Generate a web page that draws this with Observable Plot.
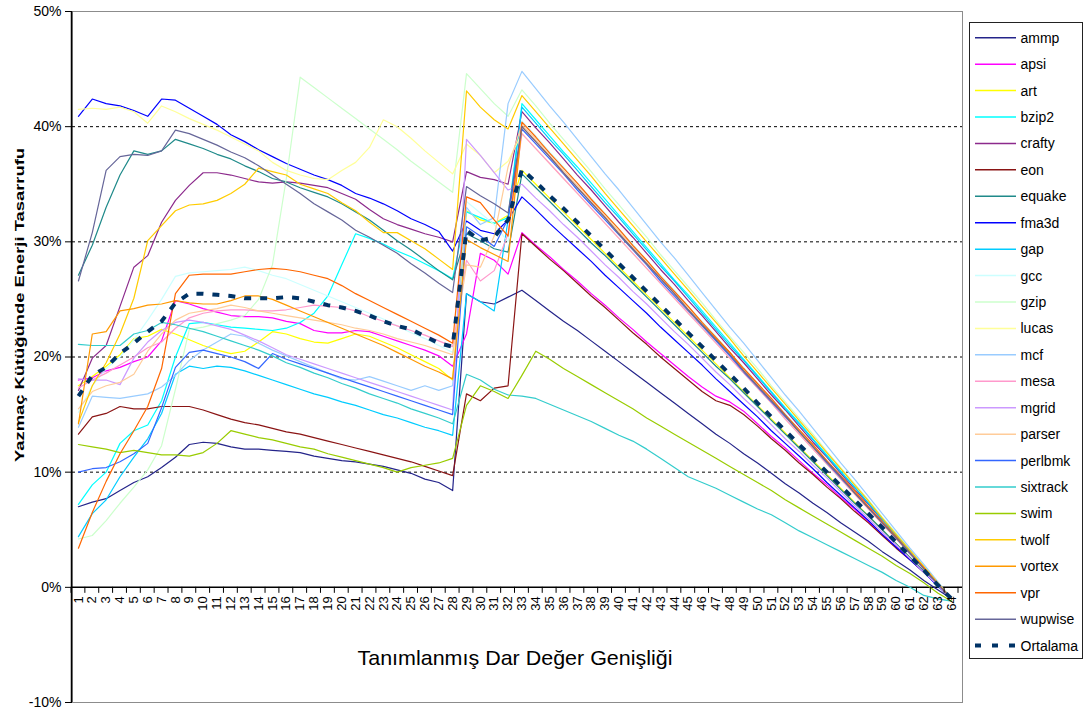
<!DOCTYPE html>
<html><head><meta charset="utf-8">
<script src="https://cdn.jsdelivr.net/npm/d3@7"></script>
<script src="https://cdn.jsdelivr.net/npm/@observablehq/plot@0.6"></script>
<style>body{margin:0;background:#fff;font-family:"Liberation Sans",Arial,sans-serif}</style>
</head><body><div id="chart"></div>
<script>
const categories = [1,2,3,4,5,6,7,8,9,10,11,12,13,14,15,16,17,18,19,20,21,22,23,24,25,26,27,28,29,30,31,32,33,34,35,36,37,38,39,40,41,42,43,44,45,46,47,48,49,50,51,52,53,54,55,56,57,58,59,60,61,62,63,64];
const seriesNames = ["ammp","apsi","art","bzip2","crafty","eon","equake","fma3d","gap","gcc","gzip","lucas","mcf","mesa","mgrid","parser","perlbmk","sixtrack","swim","twolf","vortex","vpr","wupwise"];
const seriesColors = ["#24248a","#ff00ff","#ffff00","#00ffff","#8c2a8c","#8a1414","#1f8a8a","#0000ff","#00ccff","#ccffff","#ccffcc","#ffff99","#99ccff","#ff99cc","#cc99ff","#ffcc99","#3366ff","#33cccc","#99cc00","#ffcc00","#ff9900","#ff6600","#666699"];
const avgName = "Ortalama";
const avgColor = "#003366";
const yTicks = [-10,0,10,20,30,40,50];
const gridValues = [10,20,30,40];

const ammp = [7.0,7.4,7.7,8.4,9.1,9.6,10.4,11.3,12.4,12.6,12.5,12.2,12.0,12.0,11.9, 11.8,11.7,11.4,11.2,11.0,10.9,10.7,10.5,10.2,9.9,9.4,9.1,8.4, 25.5,24.8,24.6,25.2,25.8, 24.9,24.0,23.1,22.3,21.4,20.5,19.6,18.7,17.8,16.9,16.0,15.1,14.2,13.3,12.5,11.6,10.8,9.9,9.0,8.2,7.3,6.5,5.6,4.8,4.0,3.1,2.3,1.5,0.6,-0.2,-1.0];
const apsi = [18.0,18.2,18.8,19.1,19.6,20.0,21.4,24.9,24.6,24.2,23.9,23.6,23.5,23.5,23.4, 23.1,22.9,22.3,22.1,22.1,22.3,22.2,21.8,21.4,21.0,20.6,20.1,19.2, 22.0,29.0,28.4,27.2,30.8, 29.7,28.7,27.6,26.6,25.5,24.5,23.4,22.4,21.3,20.3,19.3,18.3,17.4,16.6,16.1,15.3,14.2,13.1,12.1,11.0,9.9,8.9,7.8,6.8,5.7,4.6,3.5,2.5,1.4,0.3,-1.0];
const art = [17.5,18.3,19.2,20.2,21.6,21.8,22.4,22.0,21.5,21.0,20.6,20.3,20.5,21.3,22.2, 22.0,21.6,21.3,21.2,21.6,22.0,21.8,21.3,20.8,20.2,19.6,19.0,18.0, 32.7,31.9,31.6,32.3,36.2, 35.0,33.8,32.6,31.4,30.2,29.0,27.8,26.6,25.4,24.2,23.0,21.8,20.6,19.4,18.2,17.0,15.8,14.6,13.4,12.2,11.0,9.8,8.6,7.4,6.2,5.0,3.8,2.6,1.4,0.2,-1.0];
const bzip2 = [7.2,8.9,10.0,12.5,13.6,14.1,16.2,20.0,22.9,23.0,22.8,22.6,22.5,22.4,22.3, 22.5,23.0,23.8,25.3,28.0,30.7,30.3,29.8,29.2,28.7,28.1,27.5,26.8, 32.6,32.1,31.6,32.1,42.0, 40.6,39.2,37.8,36.5,35.1,33.7,32.3,30.9,29.5,28.1,26.7,25.4,24.0,22.6,21.2,19.8,18.4,17.0,15.6,14.3,12.9,11.5,10.1,8.7,7.3,5.9,4.5,3.2,1.8,0.4,-1.0];
const crafty = [17.1,19.9,21.0,24.4,27.8,28.8,31.7,33.6,34.9,36.0,36.0,35.8,35.5,35.2,35.1, 35.2,35.1,34.9,34.7,34.2,33.7,32.8,32.0,31.5,31.1,30.7,30.4,30.0, 36.1,35.6,35.4,35.0,41.3, 39.9,38.6,37.2,35.8,34.5,33.1,31.7,30.4,29.0,27.6,26.3,24.9,23.6,22.2,20.8,19.5,18.1,16.7,15.4,14.0,12.6,11.3,9.9,8.5,7.2,5.8,4.4,3.1,1.7,0.3,-1.0];
const eon = [13.3,14.8,15.1,15.7,15.5,15.5,15.7,15.7,15.7,15.4,15.0,14.6,14.3,14.1,13.8, 13.5,13.3,13.0,12.7,12.4,12.1,11.8,11.5,11.2,10.9,10.5,10.1,9.7, 16.8,16.2,17.3,17.5,30.7, 29.6,28.5,27.5,26.4,25.3,24.3,23.2,22.1,21.1,20.0,19.0,18.0,17.0,16.2,15.8,15.0,14.0,12.9,11.9,10.8,9.8,8.7,7.7,6.6,5.6,4.5,3.4,2.4,1.3,0.2,-1.0];
const equake = [27.1,29.7,33.0,35.8,37.9,37.6,37.9,38.9,38.5,38.1,37.6,37.2,36.6,36.1,35.5, 35.2,34.7,34.3,33.9,33.3,32.6,31.9,31.0,30.1,29.3,28.4,27.5,26.7, 30.7,30.1,29.4,29.1,35.9, 34.7,33.5,32.3,31.1,29.9,28.8,27.6,26.4,25.2,24.0,22.8,21.6,20.4,19.2,18.1,16.9,15.7,14.5,13.3,12.1,10.9,9.7,8.5,7.3,6.2,5.0,3.8,2.6,1.4,0.2,-1.0];
const fma3d = [40.9,42.4,42.0,41.8,41.4,40.9,42.4,42.3,41.6,40.9,40.2,39.3,38.7,38.0,37.4, 36.8,36.3,35.8,35.4,34.9,34.2,33.8,33.3,32.7,32.0,31.5,30.9,29.2, 31.8,31.0,30.7,31.9,33.9, 32.8,31.6,30.5,29.4,28.3,27.1,26.0,24.9,23.8,22.6,21.5,20.4,19.3,18.1,17.0,15.9,14.8,13.6,12.5,11.4,10.3,9.1,8.0,6.9,5.8,4.6,3.5,2.4,1.3,0.1,-1.0];
const gap = [4.4,6.4,7.6,9.6,11.3,12.9,15.1,18.5,19.2,19.0,19.2,19.1,18.8,18.4,18.0, 17.6,17.2,16.8,16.5,16.1,15.8,15.4,15.0,14.7,14.3,13.9,13.6,13.2, 25.5,24.8,24.0,31.9,41.7, 40.3,38.9,37.6,36.2,34.8,33.4,32.1,30.7,29.3,27.9,26.6,25.2,23.8,22.4,21.0,19.7,18.3,16.9,15.5,14.2,12.8,11.4,10.0,8.7,7.3,5.9,4.5,3.1,1.8,0.4,-1.0];
const gcc = [15.2,17.5,19.0,20.0,21.5,23.2,25.0,27.0,27.3,27.4,27.5,27.6,27.8,27.5,27.1, 26.8,26.3,25.8,25.3,24.8,24.3,23.8,23.3,22.7,22.1,21.6,21.0,20.4, 33.5,32.5,31.5,30.0,40.5, 39.2,37.8,36.5,35.1,33.8,32.5,31.1,29.8,28.4,27.1,25.8,24.4,23.1,21.8,20.4,19.1,17.7,16.4,15.1,13.7,12.4,11.0,9.7,8.4,7.0,5.7,4.3,3.0,1.7,0.3,-1.0];
const gzip = [4.2,4.5,5.8,7.3,8.7,10.2,12.3,17.2,22.4,22.6,22.9,23.2,23.6,25.0,28.0, 35.5,44.3,43.4,42.5,41.6,40.7,39.8,38.9,38.0,37.0,36.1,35.2,34.3, 44.6,43.3,42.0,40.9,43.2, 41.8,40.3,38.9,37.5,36.1,34.6,33.2,31.8,30.4,28.9,27.5,26.1,24.7,23.2,21.8,20.4,19.0,17.5,16.1,14.7,13.3,11.8,10.4,9.0,7.6,6.1,4.7,3.3,1.9,0.4,-1.0];
const lucas = [41.5,41.6,41.5,41.7,41.3,40.3,41.8,41.3,40.7,40.2,39.7,39.1,38.5,37.9,36.9, 36.2,35.8,35.5,35.4,36.2,36.9,38.2,40.6,40.0,39.0,37.9,36.9,35.9, 38.5,37.5,36.0,37.0,39.4, 38.1,36.8,35.5,34.2,32.9,31.6,30.3,29.0,27.7,26.4,25.1,23.8,22.5,21.2,19.9,18.6,17.3,16.0,14.6,13.3,12.0,10.7,9.4,8.1,6.8,5.5,4.2,2.9,1.6,0.3,-1.0];
const mcf = [13.9,16.6,16.5,16.4,16.6,16.8,17.4,18.4,19.7,20.6,21.3,22.0,21.8,21.2,20.6, 20.1,19.6,19.1,18.6,18.1,18.0,18.3,17.9,17.5,17.1,17.5,17.1,17.5, 33.0,31.5,32.1,42.0,44.8, 43.3,41.8,40.4,38.9,37.4,35.9,34.5,33.0,31.5,30.0,28.6,27.1,25.6,24.1,22.6,21.2,19.7,18.2,16.7,15.3,13.8,12.3,10.8,9.4,7.9,6.4,4.9,3.4,2.0,0.5,-1.0];
const mesa = [17.3,18.0,18.6,19.3,20.0,20.8,21.3,22.5,23.4,23.8,24.0,24.1,24.1,24.0,24.0, 24.1,24.3,24.5,24.4,24.3,24.0,23.5,23.1,22.7,22.3,21.9,21.4,20.9, 28.4,26.6,27.5,30.7,39.4, 38.1,36.8,35.5,34.2,32.9,31.6,30.3,29.0,27.7,26.4,25.1,23.8,22.5,21.2,19.9,18.6,17.3,16.0,14.6,13.3,12.0,10.7,9.4,8.1,6.8,5.5,4.2,2.9,1.6,0.3,-1.0];
const mgrid = [18.1,18.0,18.0,17.6,19.9,21.3,22.3,23.0,23.2,23.0,22.7,22.4,21.9,21.4,20.8, 20.2,19.8,19.4,19.0,18.6,18.2,17.8,17.4,17.0,16.6,16.2,15.8,15.4, 38.9,37.5,36.0,34.5,35.0, 33.8,32.7,31.5,30.4,29.2,28.0,26.9,25.7,24.6,23.4,22.2,21.1,19.9,18.7,17.6,16.4,15.3,14.1,12.9,11.8,10.6,9.5,8.3,7.1,6.0,4.8,3.7,2.5,1.3,0.2,-1.0];
const parser = [15.5,17.0,17.5,17.8,18.5,20.5,22.0,23.2,23.8,24.0,24.2,24.5,24.3,24.0,23.8, 23.6,23.4,23.2,23.0,22.8,22.5,22.3,22.0,21.6,21.3,21.0,20.6,20.2, 28.0,27.8,30.5,36.5,40.2, 38.9,37.5,36.2,34.9,33.6,32.2,30.9,29.6,28.2,26.9,25.6,24.3,22.9,21.6,20.3,18.9,17.6,16.3,15.0,13.6,12.3,11.0,9.6,8.3,7.0,5.6,4.3,3.0,1.7,0.3,-1.0];
const perlbmk = [10.0,10.3,10.4,10.9,11.6,12.5,15.6,19.1,20.4,20.6,20.3,20.0,19.6,19.0,20.3, 19.8,19.4,19.0,18.6,18.2,17.8,17.4,17.0,16.6,16.2,15.8,15.4,15.0, 31.3,30.5,29.6,32.0,39.8, 38.5,37.2,35.9,34.5,33.2,31.9,30.6,29.3,28.0,26.6,25.3,24.0,22.7,21.4,20.1,18.7,17.4,16.1,14.8,13.5,12.2,10.8,9.5,8.2,6.9,5.6,4.3,2.9,1.6,0.3,-1.0];
const sixtrack = [21.1,21.0,21.0,21.0,22.0,22.3,23.0,22.8,22.5,22.2,21.8,21.4,21.0,20.6,20.1, 19.5,19.1,18.6,18.2,17.7,17.3,16.8,16.4,16.0,15.5,15.1,14.7,14.2, 18.5,18.0,17.2,16.7,16.6, 16.4,15.9,15.4,14.9,14.4,13.8,13.2,12.7,12.0,11.2,10.4,9.6,9.1,8.6,8.0,7.4,6.8,6.3,5.6,4.9,4.3,3.7,3.1,2.5,1.9,1.3,0.6,0.0,-0.7,-1.0,-1.2];
const swim = [12.4,12.2,12.0,11.7,11.9,11.7,11.5,11.5,11.4,11.7,12.5,13.6,13.3,13.0,12.8, 12.5,12.2,12.0,11.6,11.3,11.0,10.7,10.4,10.0,10.4,10.6,10.8,11.2, 15.8,17.5,17.0,16.4,18.4, 20.5,19.8,19.0,18.3,17.6,16.9,16.2,15.5,14.7,14.0,13.3,12.6,11.9,11.2,10.5,9.8,9.1,8.4,7.6,6.9,6.2,5.5,4.8,4.1,3.4,2.7,1.9,1.2,0.4,-0.5,-1.2];
const twolf = [14.3,17.5,19.5,22.0,25.1,30.1,31.4,32.7,33.2,33.3,33.6,34.2,35.0,36.4,36.1, 35.8,35.0,34.6,34.2,33.4,32.7,31.7,30.8,30.8,30.1,29.4,28.5,27.6, 43.1,41.7,40.6,39.8,42.7, 41.3,39.9,38.5,37.1,35.7,34.2,32.8,31.4,30.0,28.6,27.2,25.8,24.4,23.0,21.6,20.1,18.7,17.3,15.9,14.5,13.1,11.7,10.3,8.9,7.5,6.0,4.6,3.2,1.8,0.4,-1.0];
const vortex = [14.2,22.0,22.2,24.0,24.2,24.5,24.6,24.9,24.7,24.6,24.6,24.9,25.3,25.3,25.0, 24.5,24.0,23.5,23.0,22.5,22.0,21.5,21.0,20.4,19.8,19.2,18.7,18.1, 30.2,29.5,28.9,28.3,40.0, 38.7,37.4,36.0,34.7,33.4,32.1,30.7,29.4,28.1,26.8,25.5,24.1,22.8,21.6,20.4,18.8,17.5,16.2,14.9,13.5,12.2,10.9,9.6,8.2,6.9,5.6,4.3,3.0,1.6,0.3,-1.0];
const vpr = [3.4,6.5,9.2,11.6,13.6,15.7,19.0,25.5,27.1,27.2,27.2,27.2,27.4,27.6,27.7, 27.6,27.4,27.1,26.8,26.2,25.5,24.9,24.3,23.7,23.1,22.5,21.9,21.2, 33.9,33.4,31.9,30.5,40.4, 39.1,37.7,36.4,35.1,33.7,32.4,31.1,29.7,28.4,27.0,25.7,24.4,23.0,21.7,20.4,19.0,17.7,16.4,15.0,13.7,12.4,11.0,9.7,8.4,7.0,5.7,4.4,3.0,1.7,0.3,-1.0];
const wupwise = [26.6,30.8,36.2,37.4,37.6,37.5,37.9,39.7,39.4,38.9,38.4,37.8,37.3,36.6,35.8, 35.0,34.2,33.3,32.6,31.9,31.0,30.4,29.7,29.0,28.1,27.3,26.4,25.6, 34.8,34.0,33.3,32.5,40.0, 38.7,37.4,36.0,34.7,33.4,32.1,30.7,29.4,28.1,26.8,25.5,24.1,22.8,21.5,20.2,18.8,17.5,16.2,14.9,13.5,12.2,10.9,9.6,8.2,6.9,5.6,4.3,3.0,1.6,0.3,-1.0];
const ortalama = [16.6,18.4,19.1,20.3,21.2,22.2,23.1,24.7,25.5,25.5,25.4,25.3,25.1,25.1,25.1, 25.2,25.1,24.8,24.5,24.3,24.0,23.6,23.1,22.7,22.4,21.8,21.2,20.9, 31.0,30.1,30.4,31.9,36.3, 35.2,34.0,32.9,31.7,30.5,29.3,28.1,26.9,25.7,24.5,23.3,22.1,20.9,19.7,18.5,17.3,16.0,14.8,13.6,12.4,11.2,10.0,8.8,7.6,6.4,5.2,3.9,2.7,1.5,0.2,-1.0];

const seriesValues = [ammp,apsi,art,bzip2,crafty,eon,equake,fma3d,gap,gcc,gzip,lucas,mcf,mesa,mgrid,parser,perlbmk,sixtrack,swim,twolf,vortex,vpr,wupwise];
seriesValues.forEach((a,i)=>{ if (a.length !== categories.length) throw new Error(seriesNames[i]+" has "+a.length); });
if (ortalama.length !== categories.length) throw new Error("ortalama "+ortalama.length);

const rows = seriesNames.flatMap((name, s) => seriesValues[s].map((v, i) => ({name, cat: categories[i], value: v})));
const avgRows = ortalama.map((v, i) => ({name: avgName, cat: categories[i], value: v}));
const xDomain = [categories[0] - 0.5, categories[categories.length - 1] + 0.5];
const font = "'Liberation Sans', Arial, sans-serif";

const chart = Plot.plot({
  width: 1091, height: 717,
  marginLeft: 72, marginRight: 129, marginTop: 11, marginBottom: 15,
  style: {fontFamily: font, fontSize: "14px", background: "white", color: "black"},
  x: {type: "linear", domain: xDomain, insetLeft: -1, insetRight: 4, axis: null},
  y: {domain: [yTicks[0], yTicks[yTicks.length - 1]], ticks: yTicks, tickFormat: d => `${d}%`, tickSize: 7, tickPadding: 4, label: null},
  color: {domain: seriesNames, range: seriesColors},
  marks: [
    Plot.frame({stroke: "#8c8c8c"}),
    Plot.ruleY(gridValues, {stroke: "black", strokeDasharray: "3,3", strokeWidth: 1}),
    Plot.ruleY([0], {stroke: "black", strokeWidth: 1.5}),
    Plot.ruleX([xDomain[0]], {stroke: "black", strokeWidth: 1.5}),
    Plot.line(rows, {x: "cat", y: "value", z: "name", stroke: "name", strokeWidth: 1.2}),
    Plot.line(avgRows, {x: "cat", y: "value", stroke: avgColor, strokeWidth: 4, strokeDasharray: "7,9", strokeLinecap: "butt"}),
    Plot.text(categories, {x: d => d, y: () => 0, text: d => String(d), rotate: -90, textAnchor: "end", dy: 9, fontSize: 13})
  ]
});
document.getElementById("chart").appendChild(chart);

const svg = d3.select(chart);
svg.selectAll("text").filter(function() { return /%$/.test(this.textContent); })
  .style("font-size", "14px").attr("font-size", 14);

const sx = chart.scale("x"), sy = chart.scale("y");
const y0 = sy.apply(0);
const bounds = categories.map(c => c - 0.5).concat([categories[categories.length - 1] + 0.5]);
svg.append("g").selectAll("line").data(bounds).join("line")
  .attr("x1", d => sx.apply(d)).attr("x2", d => sx.apply(d))
  .attr("y1", y0).attr("y2", y0 + 6).attr("stroke", "black").attr("stroke-width", 1);

// axis titles
svg.append("text").attr("transform", "translate(24,305) rotate(-90)")
  .attr("text-anchor", "middle").attr("font-family", font).attr("font-weight", "bold")
  .attr("font-size", 13).attr("textLength", 314).attr("lengthAdjust", "spacingAndGlyphs")
  .text("Yazmaç Kütüğünde Enerji Tasarrufu");
svg.append("text").attr("x", 515).attr("y", 665)
  .attr("text-anchor", "middle").attr("font-family", font)
  .attr("font-size", 21).attr("textLength", 315).attr("lengthAdjust", "spacingAndGlyphs")
  .text("Tanımlanmış Dar Değer Genişliği");

// legend
const lg = svg.append("g").attr("font-family", font).attr("font-size", 14).attr("text-anchor", "start");
lg.append("rect").attr("x", 969.5).attr("y", 22.5).attr("width", 113).attr("height", 636)
  .attr("fill", "white").attr("stroke", "#222");
const legendItems = seriesNames.map((n, i) => ({name: n, color: seriesColors[i], avg: false}))
  .concat([{name: avgName, color: avgColor, avg: true}]);
legendItems.forEach((d, i) => {
  const cy = 37.7 + i * 26.43;
  const ln = lg.append("line").attr("x1", 975).attr("x2", 1016).attr("y1", cy).attr("y2", cy)
    .attr("stroke", d.color).attr("stroke-width", d.avg ? 4 : 1.5);
  if (d.avg) ln.attr("stroke-dasharray", "6,11");
  lg.append("text").attr("x", 1020.5).attr("y", cy + 5).attr("text-anchor", "start").text(d.name);
});
</script>
</body></html>
